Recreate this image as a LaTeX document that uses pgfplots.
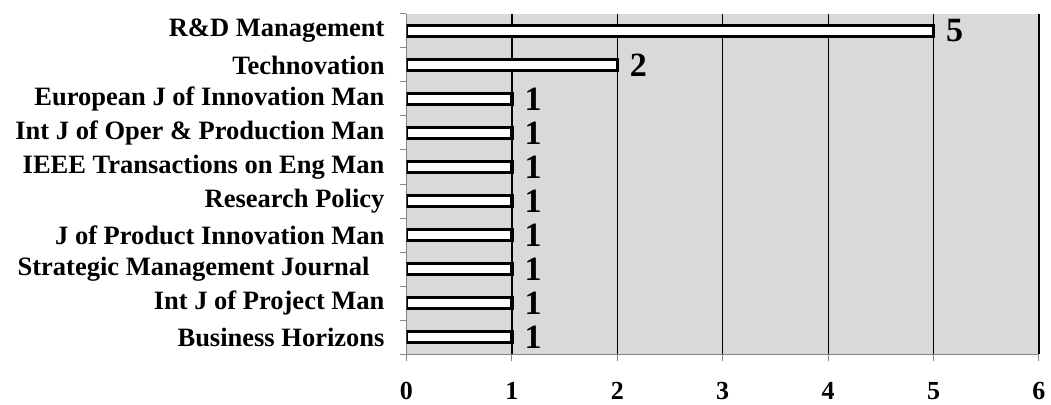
\documentclass[border=0pt]{standalone}
\usepackage{fontspec}
\setmainfont{Liberation Serif}
\usepackage{pgfplots}
\pgfplotsset{compat=1.18}
\definecolor{plotbg}{RGB}{217,217,217}
\definecolor{axgray}{RGB}{134,134,134}
\begin{document}
\begin{tikzpicture}
\begin{axis}[
  at={(0,0)}, anchor=south west,
  scale only axis, width=632.5bp, height=340bp,
  xmin=0, xmax=6, ymin=-0.5, ymax=9.5, y dir=reverse,
  xbar, bar width=11bp,
  /pgf/number format/assume math mode=true,
  axis lines=left, axis line style={draw=axgray, line width=1bp, -},
  axis background/.style={fill=plotbg},
  tick align=outside, major tick length=6.5bp,
  xtick={1,...,6}, xmajorgrids, major grid style={black, line width=1.3bp},
  extra x ticks={0}, extra x tick style={xmajorgrids=false},
  xtick style={draw=axgray, line width=1bp},
  ytick={0,...,9},
  yticklabels={R\&D Management, Technovation, European J of Innovation Man, Int J of Oper \& Production Man, IEEE Transactions on Eng Man, Research Policy, J of Product Innovation Man, {Strategic Management Journal\kern15bp}, Int J of Project Man, Business Horizons},
  ytick style={draw=none},
  extra y ticks={-0.5,0.5,...,9.5}, extra y tick labels={},
  extra y tick style={ytick style={draw=axgray, line width=1bp}},
  xticklabel style={font=\bfseries\fontsize{26bp}{28bp}\selectfont, yshift=-18bp},
  yticklabel style={font=\bfseries\fontsize{26.5bp}{30bp}\selectfont, xshift=-12bp},
  nodes near coords,
  every node near coord/.append style={font=\bfseries\fontsize{34bp}{36bp}\selectfont, inner sep=0pt, anchor=west, xshift=11bp, black},
]
\addplot[draw=black, fill=white, line width=3.2bp] coordinates {
  (5,0) (2,1) (1,2) (1,3) (1,4) (1,5) (1,6) (1,7) (1,8) (1,9)};
\end{axis}
\pgfresetboundingbox
\path[use as bounding box] (-406.5bp,-51bp) rectangle (644.5bp,354bp);
\end{tikzpicture}
\end{document}
